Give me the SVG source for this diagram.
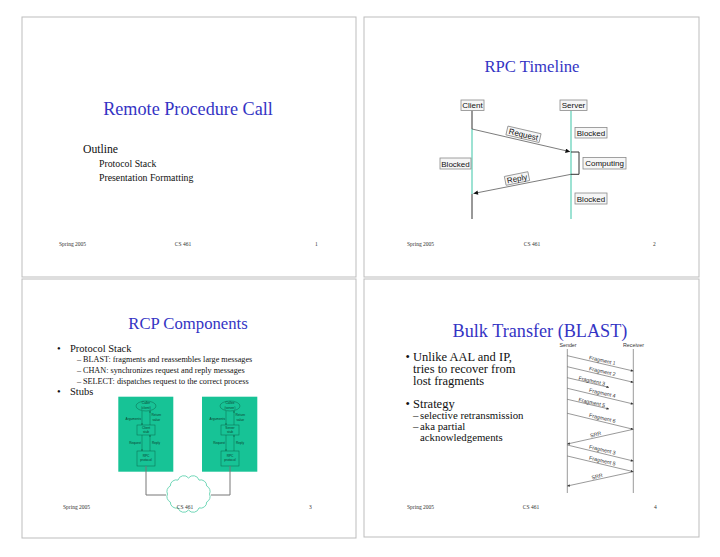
<svg xmlns="http://www.w3.org/2000/svg" width="720" height="557" viewBox="0 0 720 557">
<style>
.slide{fill:#fff;stroke:#bdbdbd;stroke-width:1}
.title{font-family:"Liberation Serif","Times New Roman",serif;fill:#3434c4;text-anchor:middle}
.serif{font-family:"Liberation Serif","Times New Roman",serif;fill:#111}
.foot{font-family:"Liberation Serif","Times New Roman",serif;font-size:5.5px;fill:#333}
.mid{text-anchor:middle}
.box{fill:#f6f6f6;stroke:#8a8a8a;stroke-width:0.8}
.lbl{font-family:"Liberation Sans",sans-serif;font-size:8px;fill:#111;text-anchor:middle}
.teal{stroke:#5ccfb6;stroke-width:1.2;fill:none}
.blk{stroke:#333;stroke-width:1;fill:none}
.msg{stroke:#444;stroke-width:0.7;fill:none}
.green{fill:#17c396}
.gs{fill:none;stroke:#0b5e45;stroke-width:0.45}
.tiny{font-family:"Liberation Sans",sans-serif;font-size:3.2px;fill:#0b3d2e}
.frag{font-family:"Liberation Sans",sans-serif;font-size:5.3px;fill:#333;text-anchor:middle}
.life{stroke:#9a9a9a;stroke-width:1}
.bm{stroke:#555;stroke-width:0.6;fill:none}
</style>
<defs>
<marker id="ah" viewBox="0 0 10 10" refX="10" refY="5" markerWidth="7" markerHeight="4.5" markerUnits="userSpaceOnUse" orient="auto"><path d="M0,0 L10,5 L0,10 z" fill="#111"/></marker>
<marker id="ahs" viewBox="0 0 10 10" refX="10" refY="5" markerWidth="3.5" markerHeight="2.5" markerUnits="userSpaceOnUse" orient="auto"><path d="M0,0 L10,5 L0,10 z" fill="#333"/></marker>
<marker id="ahg" viewBox="0 0 10 10" refX="10" refY="5" markerWidth="2" markerHeight="1.6" markerUnits="userSpaceOnUse" orient="auto"><path d="M0,0 L10,5 L0,10 z" fill="#0b5e45"/></marker>
</defs>
<rect width="720" height="557" fill="#fff"/>

<!-- Slide 1 -->
<g id="slide1">
<rect class="slide" x="22" y="17" width="334" height="260"/>
<text class="title" x="188" y="115" font-size="18.2" font-family="Liberation Serif, serif">Remote Procedure Call</text>
<text class="serif" x="83" y="153.3" font-size="11.7">Outline</text>
<text class="serif" x="99" y="167" font-size="9.8">Protocol Stack</text>
<text class="serif" x="99" y="180.5" font-size="9.8">Presentation Formatting</text>
<text class="foot" x="59" y="246">Spring 2005</text>
<text class="foot mid" x="183" y="246">CS 461</text>
<text class="foot" x="315" y="246">1</text>
</g>

<!-- Slide 2 -->
<g id="slide2">
<rect class="slide" x="364" y="17" width="335" height="260"/>
<text class="title" x="532" y="72" font-size="16.7" font-family="Liberation Serif, serif">RPC Timeline</text>
<text class="foot" x="407" y="246">Spring 2005</text>
<text class="foot mid" x="532" y="246">CS 461</text>
<text class="foot" x="653" y="246">2</text>
</g>
<g id="timeline-connectors">
<line class="blk" x1="472" y1="110.5" x2="472" y2="129"/>
<line class="teal" x1="472" y1="129" x2="472" y2="194"/>
<line class="blk" x1="472" y1="194" x2="472" y2="219"/>
<line class="teal" x1="571" y1="110.5" x2="571" y2="219"/>
<line class="msg" x1="472" y1="129" x2="570" y2="151.7" marker-end="url(#ah)"/>
<line class="msg" x1="571" y1="174.3" x2="473.5" y2="193.5" marker-end="url(#ah)"/>
<path class="blk" d="M571,152 H579 V174.3 H571"/>
</g>
<g id="client"><rect class="box" x="461" y="100" width="23" height="10.5"/><text class="lbl" x="472.5" y="108.4">Client</text></g>
<g id="server"><rect class="box" x="560" y="100" width="27" height="10.5"/><text class="lbl" x="573.5" y="108.4">Server</text></g>
<g id="request-label" transform="translate(523.5,134.3) rotate(13)"><rect class="box" x="-17" y="-4.5" width="34" height="9"/><text class="lbl" x="0" y="3">Request</text></g>
<g id="reply-label" transform="translate(517,178.5) rotate(-11.5)"><rect class="box" x="-12" y="-4.5" width="24" height="9"/><text class="lbl" x="0" y="3">Reply</text></g>
<g id="blocked-server-1"><rect class="box" x="575" y="127.5" width="32" height="10.5"/><text class="lbl" x="591" y="135.9">Blocked</text></g>
<g id="computing"><rect class="box" x="583" y="157.5" width="43" height="11.5"/><text class="lbl" x="604.5" y="166.3">Computing</text></g>
<g id="blocked-client"><rect class="box" x="440" y="158" width="31" height="11"/><text class="lbl" x="455.5" y="166.6">Blocked</text></g>
<g id="blocked-server-2"><rect class="box" x="575" y="193" width="32" height="11"/><text class="lbl" x="591" y="201.6">Blocked</text></g>

<!-- Slide 3 -->
<g id="slide3">
<rect class="slide" x="22" y="279" width="334" height="259"/>
<text class="title" x="188" y="328.5" font-size="16.7" font-family="Liberation Serif, serif">RCP Components</text>
<text class="serif" x="57" y="351.5" font-size="10.5">•</text>
<text class="serif" x="70" y="351.5" font-size="10.5">Protocol Stack</text>
<text class="serif" x="77" y="361.5" font-size="8.2" fill="#666">–</text>
<text class="serif" x="83" y="361.5" font-size="8.2">BLAST: fragments and reassembles large messages</text>
<text class="serif" x="77" y="372.5" font-size="8.2" fill="#666">–</text>
<text class="serif" x="83" y="372.5" font-size="8.2">CHAN: synchronizes request and reply messages</text>
<text class="serif" x="77" y="383.5" font-size="8.2" fill="#666">–</text>
<text class="serif" x="83" y="383.5" font-size="8.2">SELECT: dispatches request to the correct process</text>
<text class="serif" x="57" y="395" font-size="10.5">•</text>
<text class="serif" x="70" y="395" font-size="10.5">Stubs</text>
<text class="foot" x="63" y="508.5">Spring 2005</text>
<text class="foot" x="309" y="508.5">3</text>
</g>
<g id="client-host">
<rect class="green" x="118.3" y="396.7" width="55" height="75"/>
<ellipse class="gs" cx="146" cy="406" rx="10" ry="5"/>
<text class="tiny mid" x="146" y="404.3">Caller</text><text class="tiny mid" x="146" y="408.8">(client)</text>
<rect class="gs" x="137" y="425" width="18" height="10"/>
<text class="tiny mid" x="146" y="429.3">Client</text><text class="tiny mid" x="146" y="433.3">stub</text>
<rect class="gs" x="137" y="451" width="18" height="15"/>
<text class="tiny mid" x="146" y="456.5">RPC</text><text class="tiny mid" x="146" y="461">protocol</text>
<line class="gs" x1="142" y1="411" x2="142" y2="425" marker-end="url(#ahg)"/>
<line class="gs" x1="150" y1="425" x2="150" y2="410.8" marker-end="url(#ahg)"/>
<line class="gs" x1="142" y1="435" x2="142" y2="451" marker-end="url(#ahg)"/>
<line class="gs" x1="150" y1="451" x2="150" y2="435" marker-end="url(#ahg)"/>
<text class="tiny" x="141" y="419.5" text-anchor="end">Arguments</text>
<text class="tiny" x="151.5" y="416">Return</text><text class="tiny" x="152.5" y="420.5">value</text>
<text class="tiny" x="141" y="443.5" text-anchor="end">Request</text>
<text class="tiny" x="152" y="443.5">Reply</text>
</g>
<g id="server-host">
<rect class="green" x="202" y="396.7" width="55.3" height="75"/>
<ellipse class="gs" cx="230" cy="406" rx="10" ry="5"/>
<text class="tiny mid" x="230" y="404.3">Callee</text><text class="tiny mid" x="230" y="408.8">(server)</text>
<rect class="gs" x="221" y="425" width="18" height="10"/>
<text class="tiny mid" x="230" y="429.3">Server</text><text class="tiny mid" x="230" y="433.3">stub</text>
<rect class="gs" x="221" y="451" width="18" height="15"/>
<text class="tiny mid" x="230" y="456.5">RPC</text><text class="tiny mid" x="230" y="461">protocol</text>
<line class="gs" x1="226" y1="411" x2="226" y2="425" marker-end="url(#ahg)"/>
<line class="gs" x1="234" y1="425" x2="234" y2="410.8" marker-end="url(#ahg)"/>
<line class="gs" x1="226" y1="435" x2="226" y2="451" marker-end="url(#ahg)"/>
<line class="gs" x1="234" y1="451" x2="234" y2="435" marker-end="url(#ahg)"/>
<text class="tiny" x="225" y="419.5" text-anchor="end">Arguments</text>
<text class="tiny" x="235.5" y="416">Return</text><text class="tiny" x="236.5" y="420.5">value</text>
<text class="tiny" x="225" y="443.5" text-anchor="end">Request</text>
<text class="tiny" x="236" y="443.5">Reply</text>
</g>
<g id="network-connectors">
<path d="M146,466 V495 H166" fill="none" stroke="#777" stroke-width="1"/>
<path d="M230,466 V495 H211" fill="none" stroke="#777" stroke-width="1"/>
</g>
<g id="network-cloud">
<path d="M209.5,494 A6,6 0 0 1 206.7,502 A6,6 0 0 1 199,507.9 A6,6 0 0 1 188.5,510 A6,6 0 0 1 178,507.9 A6,6 0 0 1 170.3,502 A6,6 0 0 1 167.5,494 A6,6 0 0 1 170.3,486 A6,6 0 0 1 178,480.1 A6,6 0 0 1 188.5,478 A6,6 0 0 1 199,480.1 A6,6 0 0 1 206.7,486 A6,6 0 0 1 209.5,494 Z" fill="#fff" stroke="#62d2b0" stroke-width="0.9"/>
<text class="foot mid" x="185" y="508.5">CS 461</text>
</g>

<!-- Slide 4 -->
<g id="slide4">
<rect class="slide" x="364" y="279" width="335" height="258"/>
<text class="title" x="540" y="337" font-size="18.2" font-family="Liberation Serif, serif">Bulk Transfer (BLAST)</text>
<text class="serif" x="405.5" y="361" font-size="12.5">•</text>
<text class="serif" x="413" y="361" font-size="12.5">Unlike AAL and IP,</text>
<text class="serif" x="413" y="372.8" font-size="12.5">tries to recover from</text>
<text class="serif" x="413" y="384.5" font-size="12.5">lost fragments</text>
<text class="serif" x="405.5" y="408" font-size="12.5">•</text>
<text class="serif" x="413" y="408" font-size="12.5">Strategy</text>
<text class="serif" x="413" y="419" font-size="10.8">–</text>
<text class="serif" x="420" y="419" font-size="10.8">selective retransmission</text>
<text class="serif" x="413" y="430.3" font-size="10.8">–</text>
<text class="serif" x="420" y="430.3" font-size="10.8">aka partial</text>
<text class="serif" x="420" y="440.5" font-size="10.8">acknowledgements</text>
<text class="foot" x="407" y="508.5">Spring 2005</text>
<text class="foot mid" x="531" y="508.5">CS 461</text>
<text class="foot" x="654" y="508.5">4</text>
</g>
<g id="sender"><text class="frag" x="568" y="347">Sender</text><line class="life" x1="567.3" y1="349" x2="567.3" y2="493"/></g>
<g id="receiver"><text class="frag" x="633.5" y="347">Receiver</text><line class="life" x1="633.3" y1="349" x2="633.3" y2="493"/></g>
<g id="blast-connectors">
<line class="bm" x1="567.3" y1="355.7" x2="633.3" y2="371" marker-end="url(#ahs)"/>
<line class="bm" x1="567.3" y1="366.7" x2="633.3" y2="382.3" marker-end="url(#ahs)"/>
<line class="bm" x1="567.3" y1="377.7" x2="609" y2="387.4" marker-end="url(#ahs)"/>
<line class="bm" x1="567.3" y1="388.3" x2="633.3" y2="404" marker-end="url(#ahs)"/>
<line class="bm" x1="567.3" y1="399.3" x2="609" y2="409" marker-end="url(#ahs)"/>
<line class="bm" x1="567.3" y1="413.3" x2="633.3" y2="429.3" marker-end="url(#ahs)"/>
<line class="bm" x1="633.3" y1="429.3" x2="567.3" y2="444" marker-end="url(#ahs)"/>
<line class="bm" x1="567.3" y1="445" x2="633.3" y2="461" marker-end="url(#ahs)"/>
<line class="bm" x1="567.3" y1="456" x2="633.3" y2="471.7" marker-end="url(#ahs)"/>
<line class="bm" x1="633.3" y1="471.7" x2="567.3" y2="486" marker-end="url(#ahs)"/>
<text class="frag" transform="translate(602,362.2) rotate(13)">Fragment 1</text>
<text class="frag" transform="translate(602,373.2) rotate(13)">Fragment 2</text>
<text class="frag" transform="translate(591.5,382.7) rotate(13)">Fragment 3</text>
<text class="frag" transform="translate(602,394.8) rotate(13)">Fragment 4</text>
<text class="frag" transform="translate(591.5,404.3) rotate(13)">Fragment 5</text>
<text class="frag" transform="translate(602,419.8) rotate(13)">Fragment 6</text>
<text class="frag" transform="translate(596,436.2) rotate(-12.5)">SRR</text>
<text class="frag" transform="translate(602,451.5) rotate(13)">Fragment 3</text>
<text class="frag" transform="translate(602,462.5) rotate(13)">Fragment 5</text>
<text class="frag" transform="translate(597.5,478.2) rotate(-12.5)">SRR</text>
</g>
</svg>
